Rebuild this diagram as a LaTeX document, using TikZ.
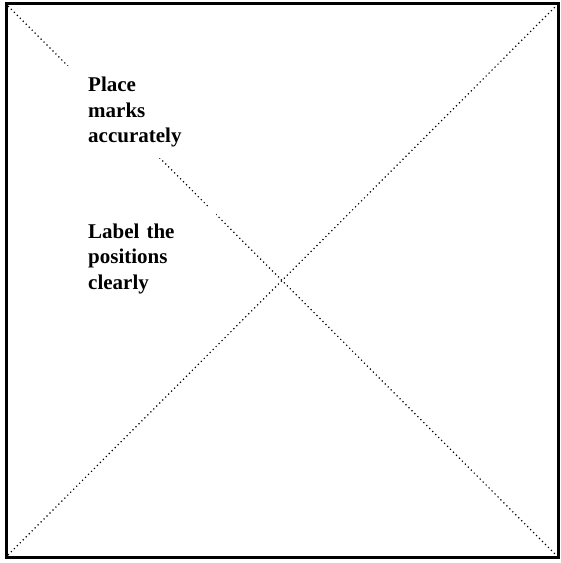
\documentclass[tikz,border=0pt]{standalone}
\usepackage{fontspec}
\setmainfont{Liberation Serif}
\begin{document}
\begin{tikzpicture}[x=1pt,y=-1pt,
  diag/.style={line width=1.2pt,dash pattern=on 1.2pt off 3pt,black},
  frame/.style={line width=3pt,black},
  labelbox/.style={fill=white,anchor=north west,text width=106pt,align=left,
    inner xsep=22pt,font=\bfseries\fontsize{21}{25.5}\selectfont}]
\useasboundingbox (0,0) rectangle (561,563);
\fill[white] (0,0) rectangle (561,563);
\coordinate (tl) at (8,6);
\coordinate (br) at (556,555);
\coordinate (bl) at (8,555);
\coordinate (tr) at (556,6);
\draw[diag] (tl) -- (br);
\draw[diag] (bl) -- (tr);
\node[labelbox,inner ysep=11pt] (t1) at (66,66) {Place\\marks\\accurately};
\node[labelbox,inner ysep=16.5pt] (t2) at (66,207) {Label the\\positions\\clearly};
\draw[frame] (6.5,3.5) rectangle (558,557.5);
\end{tikzpicture}
\end{document}
